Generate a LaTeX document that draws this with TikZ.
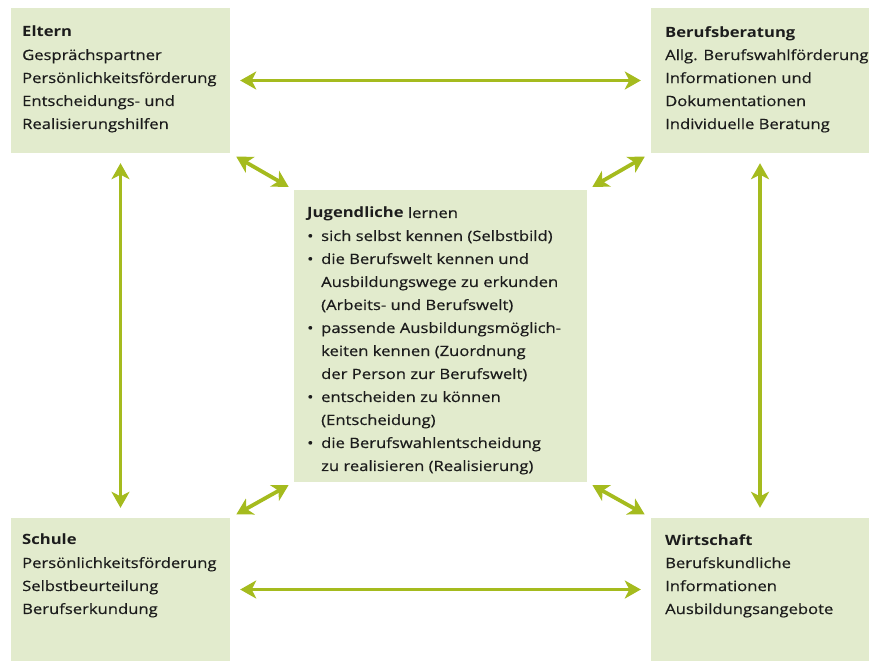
\documentclass[tikz,border=0pt]{standalone}
\usepackage{fontspec}
\setmainfont{Open Sans}[FakeStretch=1.17, UprightFeatures={FakeBold=0.5}]
\usetikzlibrary{arrows.meta}
\definecolor{boxfill}{RGB}{226,235,205}
\definecolor{arrowc}{RGB}{165,187,30}
\definecolor{txt}{RGB}{28,28,28}
\tikzset{
  box/.style={fill=boxfill, draw=none, inner sep=0pt},
  label/.style={anchor=north west, inner sep=0pt, align=left, text=txt,
    font=\fontsize{14.2}{23}\selectfont},
  link/.style={draw=arrowc, line width=3.8pt,
    {Stealth[length=16pt,width=18pt,inset=4.5pt]}-{Stealth[length=16pt,width=18pt,inset=4.5pt]}}
}
\newcommand{\bul}{\makebox[14pt][l]{•}}
\newcommand{\ind}{\hspace*{14pt}}
\begin{document}
\begin{tikzpicture}[x=1pt,y=-1pt]
\useasboundingbox (0,0) rectangle (869,661);
\node[box, minimum width=219pt, minimum height=145pt] (eltern) at (120.5,80.5) {};
\node[box, minimum width=218pt, minimum height=145pt] (beruf) at (760,80.5) {};
\node[box, minimum width=219pt, minimum height=143pt] (schule) at (120.5,589.5) {};
\node[box, minimum width=218pt, minimum height=143pt] (wirt) at (760,589.5) {};
\node[box, minimum width=293pt, minimum height=292pt] (mitte) at (440.5,336) {};

\node[label] (teltern) at (22,26) {\textbf{Eltern}\\Gesprächspartner\\Persönlichkeitsförderung\\Entscheidungs- und\\Realisierungshilfen};
\node[label] (tberuf) at (665,26) {\textbf{Berufsberatung}\\Allg. Berufswahlförderung\\Informationen und\\Dokumentationen\\Individuelle Beratung};
\node[label] (tschule) at (22,534) {\textbf{Schule}\\Persönlichkeitsförderung\\Selbstbeurteilung\\Berufserkundung};
\node[label] (twirt) at (665,534) {\textbf{Wirtschaft}\\Berufskundliche\\Informationen\\Ausbildungsangebote};
\node[label] (tmitte) at (307,207) {\textbf{Jugendliche} lernen\\
\bul sich selbst kennen (Selbstbild)\\
\bul die Berufswelt kennen und\\
\ind Ausbildungswege zu erkunden\\
\ind (Arbeits- und Berufswelt)\\
\bul passende Ausbildungsmöglich-\\
\ind keiten kennen (Zuordnung\\
\ind der Person zur Berufswelt)\\
\bul entscheiden zu können\\
\ind (Entscheidung)\\
\bul die Berufswahlentscheidung\\
\ind zu realisieren (Realisierung)};

\draw[link, shorten <=10pt, shorten >=10pt] (eltern.east) -- (beruf.west);
\draw[link, shorten <=10pt, shorten >=10pt] (schule.east) -- (wirt.west);
\draw[link, shorten <=10pt, shorten >=10pt] (eltern.south) -- (schule.north);
\draw[link, shorten <=10pt, shorten >=10pt] (beruf.south) -- (wirt.north);
\draw[link, shorten <=7pt, shorten >=6pt] (eltern.south east) -- (mitte.north west);
\draw[link, shorten <=7pt, shorten >=6pt] (beruf.south west) -- (mitte.north east);
\draw[link, shorten <=7pt, shorten >=6pt] (schule.north east) -- (mitte.south west);
\draw[link, shorten <=7pt, shorten >=6pt] (wirt.north west) -- (mitte.south east);
\end{tikzpicture}
\end{document}
